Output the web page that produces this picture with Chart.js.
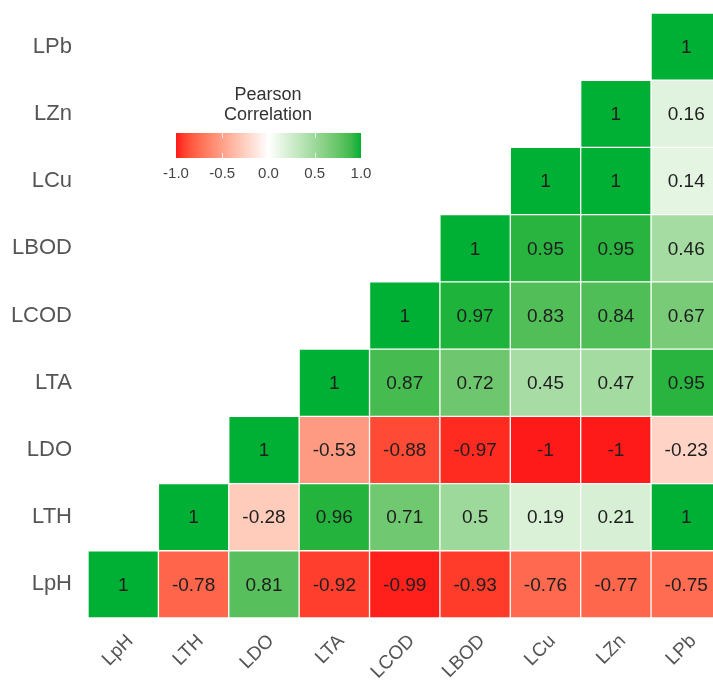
<!DOCTYPE html>
<html>
<head>
<meta charset="utf-8">
<title>Pearson correlation</title>
<script src="https://cdn.jsdelivr.net/npm/chart.js@4"></script>
<style>
html, body { margin: 0; padding: 0; background: #fff; overflow: hidden; }
</style>
</head>
<body>
<canvas id="chart" width="713" height="683"></canvas>
<script>
const variables = ["LpH", "LTH", "LDO", "LTA", "LCOD", "LBOD", "LCu", "LZn", "LPb"];

// each row: correlation of that variable with the columns from itself up to LPb
const rowLpH = [1, -0.78, 0.81, -0.92, -0.99, -0.93, -0.76, -0.77, -0.75];
const rowLTH = [1, -0.28, 0.96, 0.71, 0.5, 0.19, 0.21, 1];
const rowLDO = [1, -0.53, -0.88, -0.97, -1, -1, -0.23];
const rowLTA = [1, 0.87, 0.72, 0.45, 0.47, 0.95];
const rowLCOD = [1, 0.97, 0.83, 0.84, 0.67];
const rowLBOD = [1, 0.95, 0.95, 0.46];
const rowLCu = [1, 1, 0.14];
const rowLZn = [1, 0.16];
const rowLPb = [1];

const rows = [rowLpH, rowLTH, rowLDO, rowLTA, rowLCOD, rowLBOD, rowLCu, rowLZn, rowLPb];
const legendTicks = [-1.0, -0.5, 0.0, 0.5, 1.0];

const FONT = "'Liberation Sans', Arial, sans-serif";
const RED = [255, 26, 26];
const WHITE = [255, 255, 255];
const GREEN = [0, 176, 52];

// --- colour scale: white -> red / green, blended in Lab space like ggplot's gradient2
function toLinear(c) { c /= 255; return c <= 0.04045 ? c / 12.92 : Math.pow((c + 0.055) / 1.055, 2.4); }
function fromLinear(c) { c = c <= 0.0031308 ? c * 12.92 : 1.055 * Math.pow(c, 1 / 2.4) - 0.055; return Math.max(0, Math.min(255, Math.round(c * 255))); }
function rgbToLab(rgb) {
    const [r, g, b] = rgb.map(toLinear);
    const x = (0.4124 * r + 0.3576 * g + 0.1805 * b) / 0.95047;
    const y = 0.2126 * r + 0.7152 * g + 0.0722 * b;
    const z = (0.0193 * r + 0.1192 * g + 0.9505 * b) / 1.08883;
    const f = t => t > 0.008856 ? Math.cbrt(t) : 7.787 * t + 16 / 116;
    return [116 * f(y) - 16, 500 * (f(x) - f(y)), 200 * (f(y) - f(z))];
}
function labToRgb(lab) {
    const fy = (lab[0] + 16) / 116, fx = fy + lab[1] / 500, fz = fy - lab[2] / 200;
    const inv = t => t > 0.206893 ? t * t * t : (t - 16 / 116) / 7.787;
    const x = inv(fx) * 0.95047, y = inv(fy), z = inv(fz) * 1.08883;
    const r = 3.2406 * x - 1.5372 * y - 0.4986 * z;
    const g = -0.9689 * x + 1.8758 * y + 0.0415 * z;
    const b = 0.0557 * x - 0.2040 * y + 1.0570 * z;
    return [r, g, b].map(fromLinear);
}
const LAB_RED = rgbToLab(RED), LAB_WHITE = rgbToLab(WHITE), LAB_GREEN = rgbToLab(GREEN);

function corrColor(v) {
    const t = Math.min(1, Math.abs(v));
    const end = v < 0 ? LAB_RED : LAB_GREEN;
    const lab = LAB_WHITE.map((w, i) => w + (end[i] - w) * t);
    return `rgb(${labToRgb(lab).join(",")})`;
}

const datasets = rows.map((vals, i) => ({
    label: variables[i],
    data: vals.map((v, k) => ({ x: i + k, y: [i - 0.5, i + 0.5] })),
    backgroundColor: vals.map(corrColor),
    borderColor: "rgba(255,255,255,0.75)",
    borderWidth: 1,
    borderSkipped: false,
    grouped: false,
    categoryPercentage: 1,
    barPercentage: 1,
    clip: false,
}));

// numbers inside the cells
const cellLabels = {
    id: "cellLabels",
    afterDatasetsDraw(chart) {
        const ctx = chart.ctx;
        ctx.save();
        ctx.font = `19px ${FONT}`;
        ctx.fillStyle = "#1e1e1e";
        ctx.textAlign = "center";
        ctx.textBaseline = "middle";
        rows.forEach((vals, i) => {
            chart.getDatasetMeta(i).data.forEach((bar, k) => {
                ctx.fillText(String(vals[k]), bar.x, (bar.y + bar.base) / 2 + 1);
            });
        });
        ctx.restore();
    },
};

// colour bar legend
const colorBar = {
    id: "colorBar",
    afterDraw(chart) {
        const ctx = chart.ctx;
        const left = 176, right = 361, top = 133, bottom = 158;
        ctx.save();
        ctx.fillStyle = "#333";
        ctx.font = `18px ${FONT}`;
        ctx.textAlign = "center";
        ctx.textBaseline = "middle";
        ctx.fillText("Pearson", 268, 95);
        ctx.fillText("Correlation", 268, 115);

        const grad = ctx.createLinearGradient(left, 0, right, 0);
        for (let s = 0; s <= 20; s++) {
            grad.addColorStop(s / 20, corrColor(s / 10 - 1));
        }
        ctx.fillStyle = grad;
        ctx.fillRect(left, top, right - left, bottom - top);

        ctx.font = `15px ${FONT}`;
        ctx.fillStyle = "#444";
        ctx.strokeStyle = "rgba(255,255,255,0.8)";
        ctx.lineWidth = 1;
        legendTicks.forEach(t => {
            const x = left + (t + 1) / 2 * (right - left);
            if (t > -1 && t < 1) {
                ctx.beginPath();
                ctx.moveTo(Math.round(x) + 0.5, top);
                ctx.lineTo(Math.round(x) + 0.5, top + 5);
                ctx.moveTo(Math.round(x) + 0.5, bottom - 5);
                ctx.lineTo(Math.round(x) + 0.5, bottom);
                ctx.stroke();
            }
            ctx.fillText(t.toFixed(1), x, 174);
        });
        ctx.restore();
    },
};

const indexTicks = scale => {
    scale.ticks = variables.map((_, i) => ({ value: i }));
};

new Chart(document.getElementById("chart"), {
    type: "bar",
    data: { datasets },
    options: {
        responsive: false,
        animation: false,
        layout: { padding: { top: 13, left: 0, right: 0, bottom: 0 } },
        plugins: {
            legend: { display: false },
            tooltip: { enabled: false },
        },
        scales: {
            x: {
                type: "linear",
                offset: false,
                min: -0.5,
                max: 8.38,
                afterBuildTicks: indexTicks,
                afterFit: s => { s.height = 65; s.paddingLeft = 0; s.paddingRight = 0; },
                ticks: {
                    callback: v => variables[v],
                    autoSkip: false,
                    minRotation: 45,
                    maxRotation: 45,
                    padding: 12,
                    labelOffset: 7,
                    color: "#555",
                    font: { family: FONT, size: 19 },
                },
                grid: { display: false, drawTicks: false },
                border: { display: false },
            },
            y: {
                type: "linear",
                min: -0.5,
                max: 8.5,
                afterBuildTicks: indexTicks,
                afterFit: s => { s.width = 88; s.paddingTop = 0; s.paddingBottom = 0; },
                ticks: {
                    callback: v => variables[v],
                    autoSkip: false,
                    padding: 16,
                    color: "#555",
                    font: { family: FONT, size: 22 },
                },
                grid: { display: false, drawTicks: false },
                border: { display: false },
            },
        },
    },
    plugins: [cellLabels, colorBar],
});
</script>
</body>
</html>
